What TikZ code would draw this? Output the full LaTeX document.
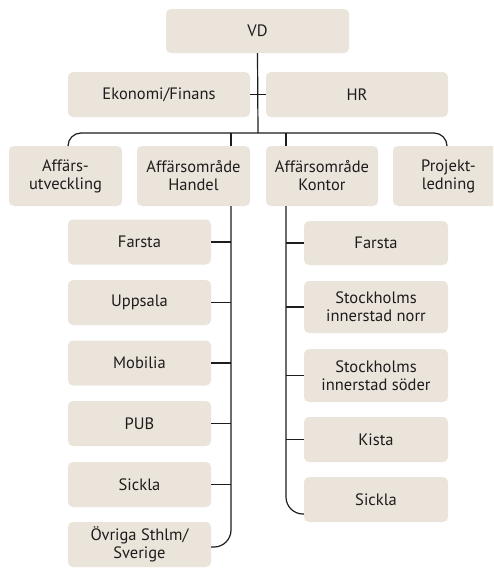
\documentclass[tikz,border=0pt]{standalone}
\usepackage{fontspec}
\setmainfont{PT Sans}
\usetikzlibrary{calc}
\definecolor{boxfill}{RGB}{234,228,219}
\definecolor{ink}{RGB}{30,28,28}
\tikzset{
  box/.style={fill=boxfill, draw=none, rounded corners=5pt, align=center, inner sep=0pt,
    text=ink, font=\fontsize{16.5}{18}\selectfont},
  conn/.style={draw=ink, line width=1.2pt}
}
\begin{document}
\begin{tikzpicture}[x=1pt,y=-1pt]
\useasboundingbox (0,0) rectangle (493,573);
\clip (0,0) rectangle (493,573);
\fill[white] (0,0) rectangle (493,573);
% level 0/1
\node[box, minimum width=183pt, minimum height=44pt] (vd) at (257.5,31) {VD};
\node[box, minimum width=182pt, minimum height=45pt] (eko) at (159,94.5) {Ekonomi/Finans};
\node[box, minimum width=182pt, minimum height=45pt] (hr) at (357,94.5) {HR};
% level 2
\node[box, minimum width=113pt, minimum height=60pt] (aff) at (65.5,176) {Affärs-\\utveckling};
\node[box, minimum width=113pt, minimum height=60pt] (han) at (193.5,176) {Affärsområde\\Handel};
\node[box, minimum width=112pt, minimum height=60pt] (kon) at (322,176) {Affärsområde\\Kontor};
\node[box, minimum width=111pt, minimum height=60pt] (pro) at (448.5,176) {Projekt-\\ledning};
% Handel subs
\node[box, minimum width=143pt, minimum height=45pt] (hfar) at (139.5,242) {Farsta};
\node[box, minimum width=143pt, minimum height=45pt] (hupp) at (139.5,302.5) {Uppsala};
\node[box, minimum width=143pt, minimum height=45pt] (hmob) at (139.5,363) {Mobilia};
\node[box, minimum width=143pt, minimum height=45pt] (hpub) at (139.5,423.5) {PUB};
\node[box, minimum width=143pt, minimum height=45pt] (hsic) at (139.5,484.5) {Sickla};
\node[box, minimum width=143pt, minimum height=45pt] (hovr) at (139.5,544.5) {Övriga Sthlm/\\Sverige};
% Kontor subs
\node[box, minimum width=144pt, minimum height=44pt] (kfar) at (376,243) {Farsta};
\node[box, minimum width=144pt, minimum height=52pt] (knor) at (376,307) {Stockholms\\innerstad norr};
\node[box, minimum width=144pt, minimum height=53pt] (ksod) at (376,375.5) {Stockholms\\innerstad söder};
\node[box, minimum width=144pt, minimum height=45pt] (kkis) at (376,439.5) {Kista};
\node[box, minimum width=144pt, minimum height=45pt] (ksic) at (376,499.5) {Sickla};
% connectors
\coordinate (bar) at (258,133);
\coordinate (hx) at (231,0);
\coordinate (kx) at (286,0);
\coordinate (affend) at (68,146);
\coordinate (proend) at (447,146);
\draw[conn] (vd.south) -- (bar);
\draw[conn] (eko.east) -- (hr.west);
\draw[conn, rounded corners=13pt] (affend) |- (bar) -| (proend);
\draw[conn] (hx |- bar) -- (hx |- han.north);
\draw[conn] (kx |- bar) -- (kx |- kon.north);
\draw[conn, rounded corners=17pt] (hx |- han.south) |- ($(hovr.east)+(0,2.5)$);
\foreach \n in {hfar,hupp,hmob,hpub,hsic} \draw[conn] (\n.east) -- (\n.east -| hx);
\draw[conn, rounded corners=17pt] (kx |- kon.south) |- ($(ksic.west)+(0,14.5)$);
\foreach \n in {kfar,knor,ksod,kkis} \draw[conn] (\n.west) -- (\n.west -| kx);
\end{tikzpicture}
\end{document}
